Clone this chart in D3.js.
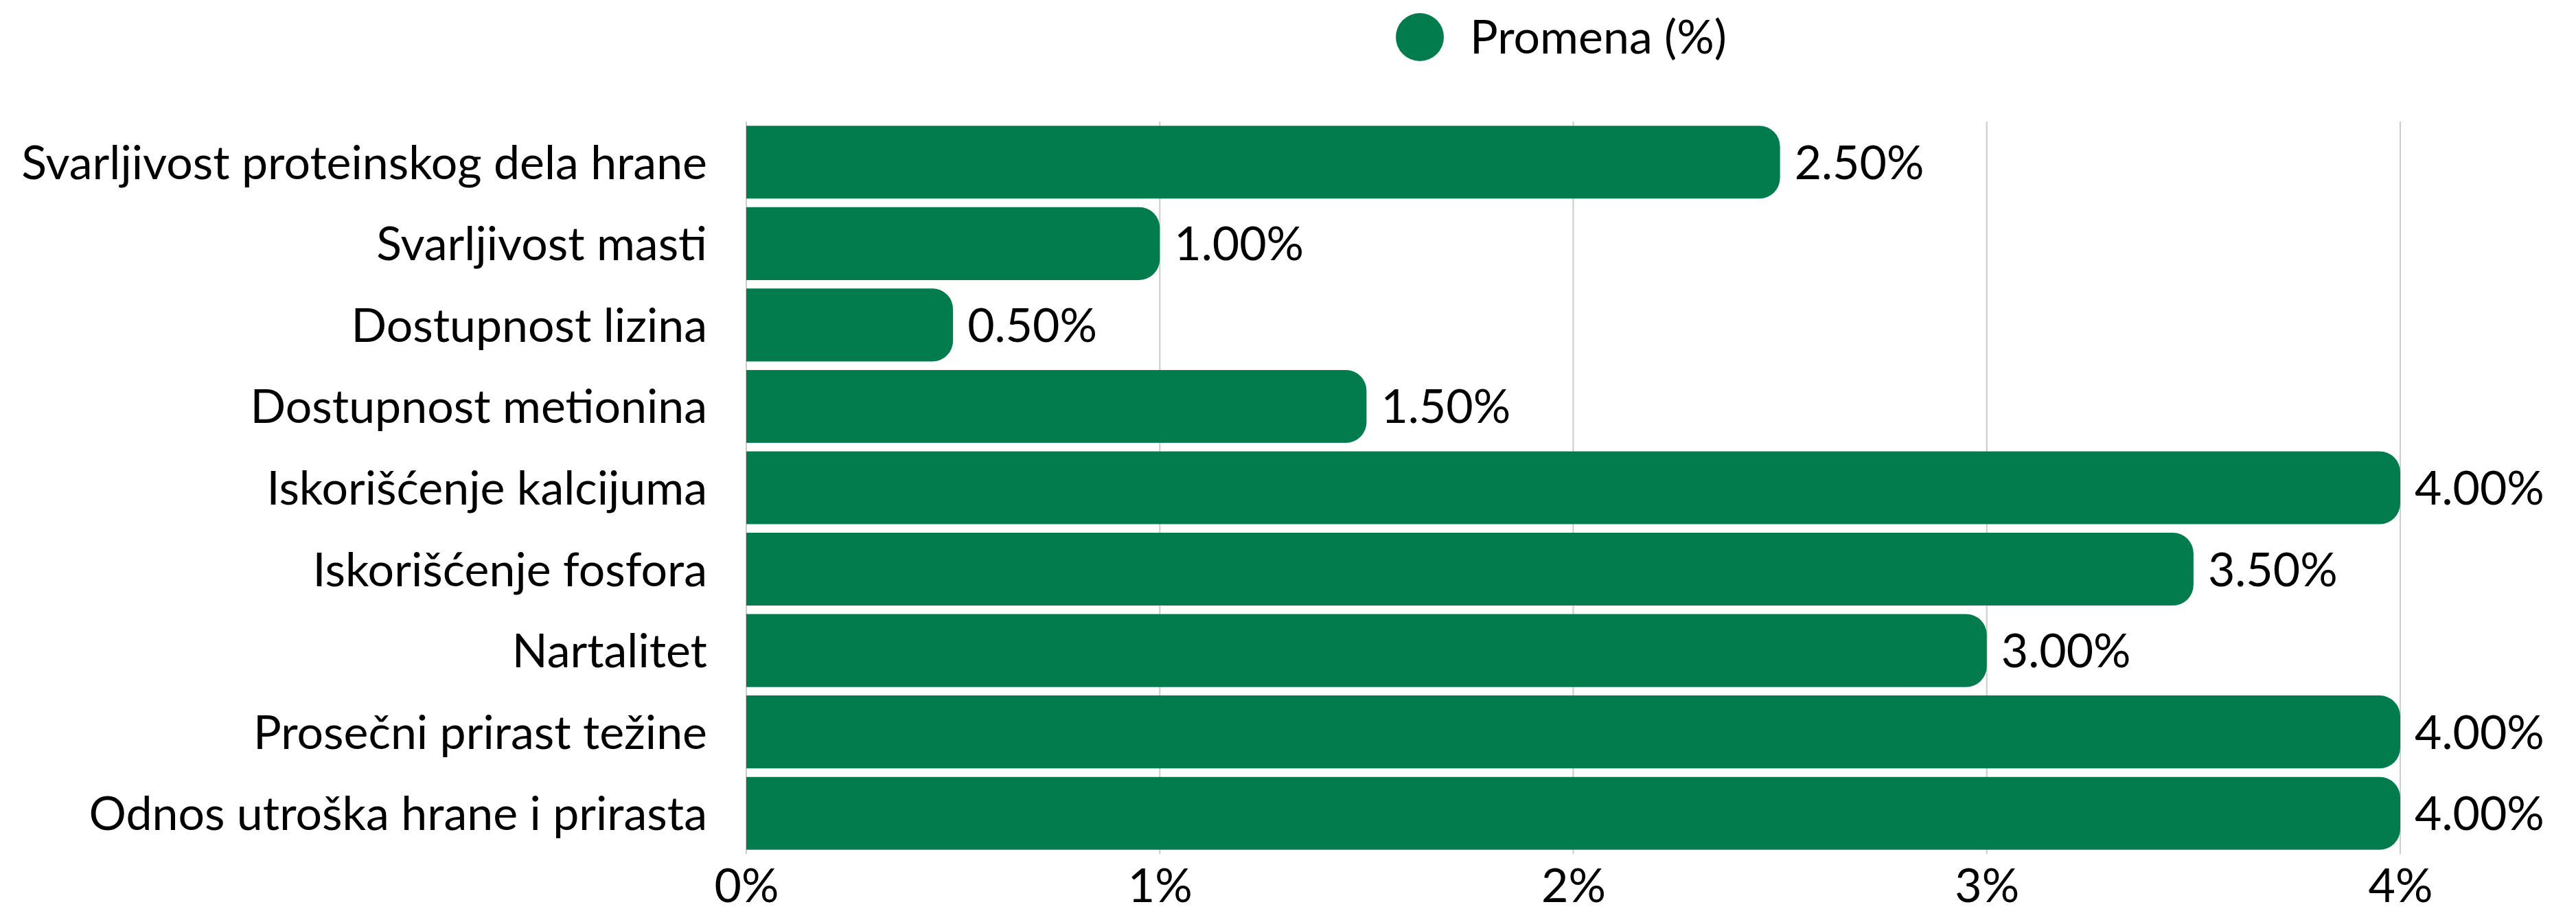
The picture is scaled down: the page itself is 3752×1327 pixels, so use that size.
<!DOCTYPE html>
<html>
<head>
<meta charset="utf-8">
<script src="https://cdn.jsdelivr.net/npm/d3@7"></script>
<style>
  body { margin: 0; background: #fff; }
  svg text { font-family: Lato, "Open Sans", sans-serif; fill: #000; }
</style>
</head>
<body>
<div id="chart"></div>
<script>
// chart data
var categories = [
    'Svarljivost proteinskog dela hrane',
    'Svarljivost masti',
    'Dostupnost lizina',
    'Dostupnost metionina',
    'Iskorišćenje kalcijuma',
    'Iskorišćenje fosfora',
    'Nartalitet',
    'Prosečni prirast težine',
    'Odnos utroška hrane i prirasta'
];
var promena = [2.5, 1.0, 0.5, 1.5, 4.0, 3.5, 3.0, 4.0, 4.0];
var xTicks = [0, 1, 2, 3, 4];
var seriesName = 'Promena (%)';

var width = 3752, height = 1327;
var plot = { left: 1087, right: 3496, top: 177, bottom: 1244 };
var green = '#027b4d';
var fontSize = '68px';

var svg = d3.select('#chart').append('svg')
    .attr('width', width).attr('height', height);

var x = d3.scaleLinear().domain([0, 4]).range([plot.left, plot.right]);
var y = d3.scaleBand().domain(categories).range([plot.top, plot.bottom])
    .paddingInner(0.105).paddingOuter(0.0525);

// gridlines
svg.append('g').selectAll('line')
    .data(xTicks)
    .enter().append('line')
    .attr('x1', d => x(d)).attr('x2', d => x(d))
    .attr('y1', plot.top).attr('y2', plot.bottom)
    .attr('stroke', '#cccccc').attr('stroke-width', 2);

// bars, rounded on the right end only
var r = 30;
function barPath(d, i) {
    var x0 = x(0), x1 = x(d), y0 = y(categories[i]), h = y.bandwidth();
    var rr = Math.min(r, (x1 - x0), h / 2);
    return 'M' + x0 + ',' + y0 +
        'H' + (x1 - rr) +
        'A' + rr + ',' + rr + ' 0 0 1 ' + x1 + ',' + (y0 + rr) +
        'V' + (y0 + h - rr) +
        'A' + rr + ',' + rr + ' 0 0 1 ' + (x1 - rr) + ',' + (y0 + h) +
        'H' + x0 + 'Z';
}
svg.append('g').selectAll('path')
    .data(promena)
    .enter().append('path')
    .attr('d', barPath)
    .attr('fill', green);

// value labels
var fmt = d3.format('.2f');
svg.append('g').selectAll('text')
    .data(promena)
    .enter().append('text')
    .attr('x', d => x(d) + 21)
    .attr('y', (d, i) => y(categories[i]) + y.bandwidth() / 2)
    .attr('dy', '0.36em')
    .attr('font-size', fontSize)
    .text(d => fmt(d) + '%');

// category axis
var yAxis = svg.append('g')
    .attr('transform', 'translate(' + (plot.left - 57) + ',0)')
    .call(d3.axisLeft(y).tickSize(0).tickPadding(0));
yAxis.select('.domain').remove();
yAxis.selectAll('text').attr('font-size', fontSize).attr('dy', '0.36em');

// x axis
var xAxis = svg.append('g')
    .attr('transform', 'translate(0,' + plot.bottom + ')')
    .call(d3.axisBottom(x).tickValues(xTicks).tickSize(0).tickPadding(22)
        .tickFormat(d => d + '%'));
xAxis.select('.domain').remove();
xAxis.selectAll('text').attr('font-size', fontSize).attr('dy', '0.71em');

// legend
var legend = svg.append('g');
legend.append('circle').attr('cx', 2068).attr('cy', 54).attr('r', 35).attr('fill', green);
legend.append('text').attr('x', 2141).attr('y', 54).attr('dy', '0.36em')
    .attr('font-size', fontSize).text(seriesName);
</script>
</body>
</html>
